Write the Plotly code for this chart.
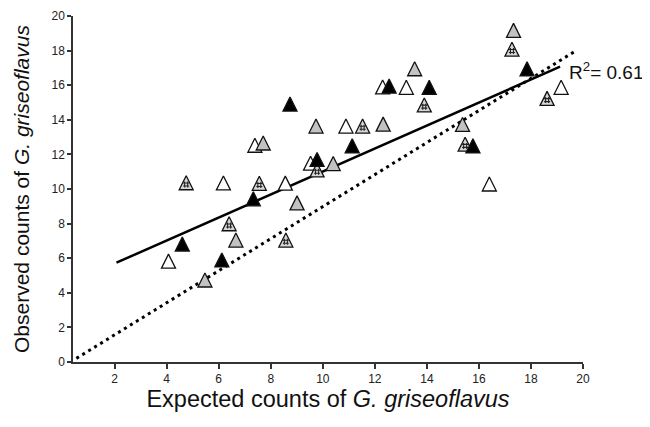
import plotly.graph_objects as go

# ---- data ----
black_x = [8.74, 11.13, 9.78, 7.33, 4.60, 6.12, 12.55, 14.09, 15.77, 17.85]
black_y = [14.91, 12.50, 11.71, 9.43, 6.82, 5.90, 15.95, 15.88, 12.50, 16.95]

gray_x = [9.74, 12.32, 7.71, 10.40, 9.01, 6.66, 5.47, 13.53, 15.37, 17.33]
gray_y = [13.64, 13.75, 12.66, 11.47, 9.20, 7.05, 4.74, 16.95, 13.73, 19.17]

dotted_x = [4.75, 7.56, 6.40, 8.58, 9.78, 11.53, 13.90, 15.47, 17.27, 18.62]
dotted_y = [10.36, 10.33, 7.99, 7.05, 11.10, 13.64, 14.86, 12.59, 18.08, 15.24]

white_x = [4.07, 6.18, 8.56, 7.39, 9.53, 10.89, 12.30, 13.21, 19.16, 16.40]
white_y = [5.83, 10.35, 10.34, 12.53, 11.49, 13.64, 15.90, 15.88, 15.88, 10.29]

fit_x = [2.07, 19.12]
fit_y = [5.74, 17.07]

oneone_x = [0.53, 19.77]
oneone_y = [0.21, 18.03]

x_ticks = [2, 4, 6, 8, 10, 12, 14, 16, 18, 20]
y_ticks = [0, 2, 4, 6, 8, 10, 12, 14, 16, 18, 20]

r2_text = "R<sup>2</sup>= 0.61"

# ---- figure ----
MS = 14
def tri(color):
    return dict(symbol="arrow-down", angle=180, standoff=MS / 2, size=MS,
                color=color, line=dict(color="#111", width=1.3))

fig = go.Figure()
fig.add_trace(go.Scatter(x=oneone_x, y=oneone_y, mode="lines",
                         line=dict(color="black", width=3, dash="3px,4px"),
                         hoverinfo="skip"))
fig.add_trace(go.Scatter(x=fit_x, y=fit_y, mode="lines",
                         line=dict(color="black", width=2.5), hoverinfo="skip"))
fig.add_trace(go.Scatter(x=white_x, y=white_y, mode="markers", marker=tri("white")))
fig.add_trace(go.Scatter(x=dotted_x, y=dotted_y, mode="markers", marker=tri("#d6d6d6")))
fig.add_trace(go.Scatter(x=dotted_x, y=[v - 0.1 for v in dotted_y], mode="markers",
                         marker=dict(symbol="hash-open", size=6, color="#222",
                                     line=dict(color="#222", width=1.1))))
fig.add_trace(go.Scatter(x=gray_x, y=gray_y, mode="markers", marker=tri("#c2c2c2")))
fig.add_trace(go.Scatter(x=black_x, y=black_y, mode="markers", marker=tri("black")))

fig.add_annotation(x=19.4, y=16.8, text=r2_text, showarrow=False,
                   xanchor="left", yanchor="middle",
                   font=dict(size=19, color="#111"))

axis_font = dict(family="Liberation Sans, Arial, sans-serif", size=12, color="#222")
# the page body adds an 8px offset, so the figure is sized to fit inside the window
fig.update_layout(
    width=642, height=419,
    margin=dict(l=65, r=67, t=8, b=65),
    paper_bgcolor="white", plot_bgcolor="white",
    showlegend=False,
    font=dict(family="Liberation Sans, Arial, sans-serif", color="#111"),
    xaxis=dict(range=[0.4, 20], tickvals=x_ticks, showgrid=False, zeroline=False,
               automargin=False,
               showline=True, linecolor="#333", linewidth=1.5,
               ticks="outside", ticklen=5, tickwidth=1.5, tickcolor="#333",
               tickfont=axis_font,
               title=dict(text="Expected counts of <i>G. griseoflavus</i>",
                          font=dict(size=23.5, color="#111"), standoff=2)),
    yaxis=dict(range=[0, 20], tickvals=y_ticks, showgrid=False, zeroline=False,
               automargin=False,
               showline=True, linecolor="#333", linewidth=1.5,
               ticks="outside", ticklen=4, tickwidth=1.5, tickcolor="#333",
               tickfont=axis_font,
               title=dict(text="Observed counts of <i>G. griseoflavus</i>",
                          font=dict(size=21, color="#111"), standoff=16)),
)

fig.write_html("out.html")
